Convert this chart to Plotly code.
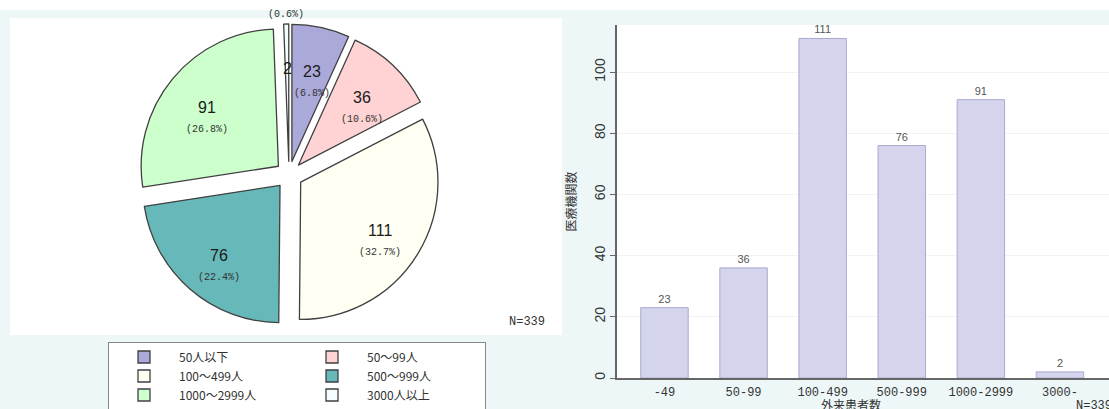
import math
import plotly.graph_objects as go

# ---- data ----
pie_labels = ["50人以下", "50～99人", "100～499人", "500～999人", "1000～2999人", "3000人以上"]
pie_values = [23, 36, 111, 76, 91, 2]
pie_colors = ["#aaa9d9", "#ffd3d3", "#fffff3", "#67b8b8", "#ccffcc", "#f4fdfd"]

bar_categories = ["-49", "50-99", "100-499", "500-999", "1000-2999", "3000-"]
bar_values = [23, 36, 111, 76, 91, 2]
y_ticks = [0, 20, 40, 60, 80, 100]

n_total = sum(pie_values)

W, H = 1109, 409
ML = 120
GW = W - ML


def px(x):
    return (x - ML) / GW


def py(y):
    return 1 - y / H


mono = "Courier New, Liberation Mono, monospace"
sans = "Arial, Liberation Sans, sans-serif"
cjk = "Noto Sans CJK JP, sans-serif"

# pie geometry (pixels)
PULL = 0.1
pie_x0, pie_x1, pie_y0, pie_y1 = 138, 440, 24, 326
cx, cy = (pie_x0 + pie_x1) / 2, (pie_y0 + pie_y1) / 2
R = min(pie_x1 - pie_x0, pie_y1 - pie_y0) / (2 * (1 + PULL))

n_slices = len(pie_values)
small_idx = n_slices - 1

fig = go.Figure()

fig.add_trace(go.Pie(
    labels=pie_labels,
    values=pie_values,
    sort=False,
    direction="clockwise",
    rotation=0,
    pull=[PULL] * n_slices,
    marker=dict(colors=pie_colors, line=dict(color="#404040", width=1.3)),
    textinfo="none",
    domain=dict(x=[px(pie_x0), px(pie_x1)], y=[py(pie_y1), py(pie_y0)]),
    hoverinfo="label+value+percent",
    showlegend=True,
))

fig.add_trace(go.Bar(
    x=bar_categories,
    y=bar_values,
    xaxis="x",
    yaxis="y",
    marker=dict(color="#d4d4ec", line=dict(color="#a9a9d3", width=1)),
    text=bar_values,
    texttemplate="%{y}",
    textposition="outside",
    textfont=dict(family=sans, size=11, color="#555"),
    cliponaxis=False,
    showlegend=False,
))

# slice labels, placed along each slice's mid angle
annotations = []
cum = 0
for i, v in enumerate(pie_values):
    frac = v / n_total
    mid = (cum + frac / 2) * 2 * math.pi
    cum += frac
    d = R * (PULL + 0.675)
    lx = cx + d * math.sin(mid)
    ly = cy - d * math.cos(mid)
    annotations.append(dict(text=str(v), xref="paper", yref="paper", x=px(lx), y=py(ly),
                            xanchor="center", yanchor="middle", showarrow=False,
                            font=dict(family=sans, size=16, color="#1a1a1a")))
    pct = f"({frac * 100:.1f}%)"
    if i == small_idx:
        dp = R * (1 + PULL) + 10
        plx, ply = cx + dp * math.sin(mid), cy - dp * math.cos(mid)
    else:
        plx, ply = lx, ly + 22
    annotations.append(dict(text=pct, xref="paper", yref="paper", x=px(plx), y=py(ply),
                            xanchor="center", yanchor="middle", showarrow=False,
                            font=dict(family=mono, size=10, color="#333")))

annotations += [
    dict(text=f"N={n_total}", xref="paper", yref="paper", x=px(507), y=py(322),
         xanchor="left", yanchor="middle", showarrow=False, font=dict(family=mono, size=12, color="#333")),
    dict(text="外来患者数", xref="paper", yref="paper", x=px(851), y=py(404),
         xanchor="center", yanchor="middle", showarrow=False, font=dict(family=cjk, size=12, color="#333")),
    dict(text=f"N={n_total}", xref="paper", yref="paper", x=px(1074), y=py(406),
         xanchor="left", yanchor="middle", showarrow=False, font=dict(family=mono, size=12, color="#333")),
]

fig.update_layout(
    width=W, height=H,
    margin=dict(l=ML, r=0, t=0, b=0, autoexpand=False),
    paper_bgcolor="#eef7f7",
    plot_bgcolor="#ffffff",
    bargap=0.4,
    xaxis=dict(
        domain=[px(617), 1],
        range=[-0.6, 5.62],
        showline=True, linecolor="#666", linewidth=1.5,
        ticks="", showgrid=False, zeroline=False,
        tickfont=dict(family=mono, size=12, color="#333"),
        ticklabelstandoff=2,
    ),
    yaxis=dict(
        domain=[py(378), py(25)],
        range=[0, 115.4],
        tickvals=y_ticks,
        tickangle=-90,
        ticks="outside", ticklen=5, tickcolor="#666",
        showline=True, linecolor="#666", linewidth=1.5,
        showgrid=True, gridcolor="#f3f3f3", zeroline=False,
        tickfont=dict(family=sans, size=14, color="#333"),
        title=dict(text="医療機関数", font=dict(family=cjk, size=12, color="#333"), standoff=12),
    ),
    legend=dict(
        orientation="h",
        x=px(108), xanchor="left",
        y=py(341.5), yanchor="top",
        itemwidth=60,
        entrywidth=113,
        bgcolor="#ffffff",
        bordercolor="#888", borderwidth=1,
        font=dict(family=cjk, size=12, color="#333"),
        traceorder="normal",
    ),
    shapes=[
        dict(type="rect", xref="paper", yref="paper", x0=px(0), x1=px(W), y0=py(10), y1=py(0),
             fillcolor="#ffffff", line=dict(width=0), layer="below"),
        dict(type="rect", xref="paper", yref="paper", x0=px(10), x1=px(562), y0=py(335), y1=py(18),
             fillcolor="#ffffff", line=dict(width=0), layer="below"),
    ],
    annotations=annotations,
)

fig.write_html("out.html")
